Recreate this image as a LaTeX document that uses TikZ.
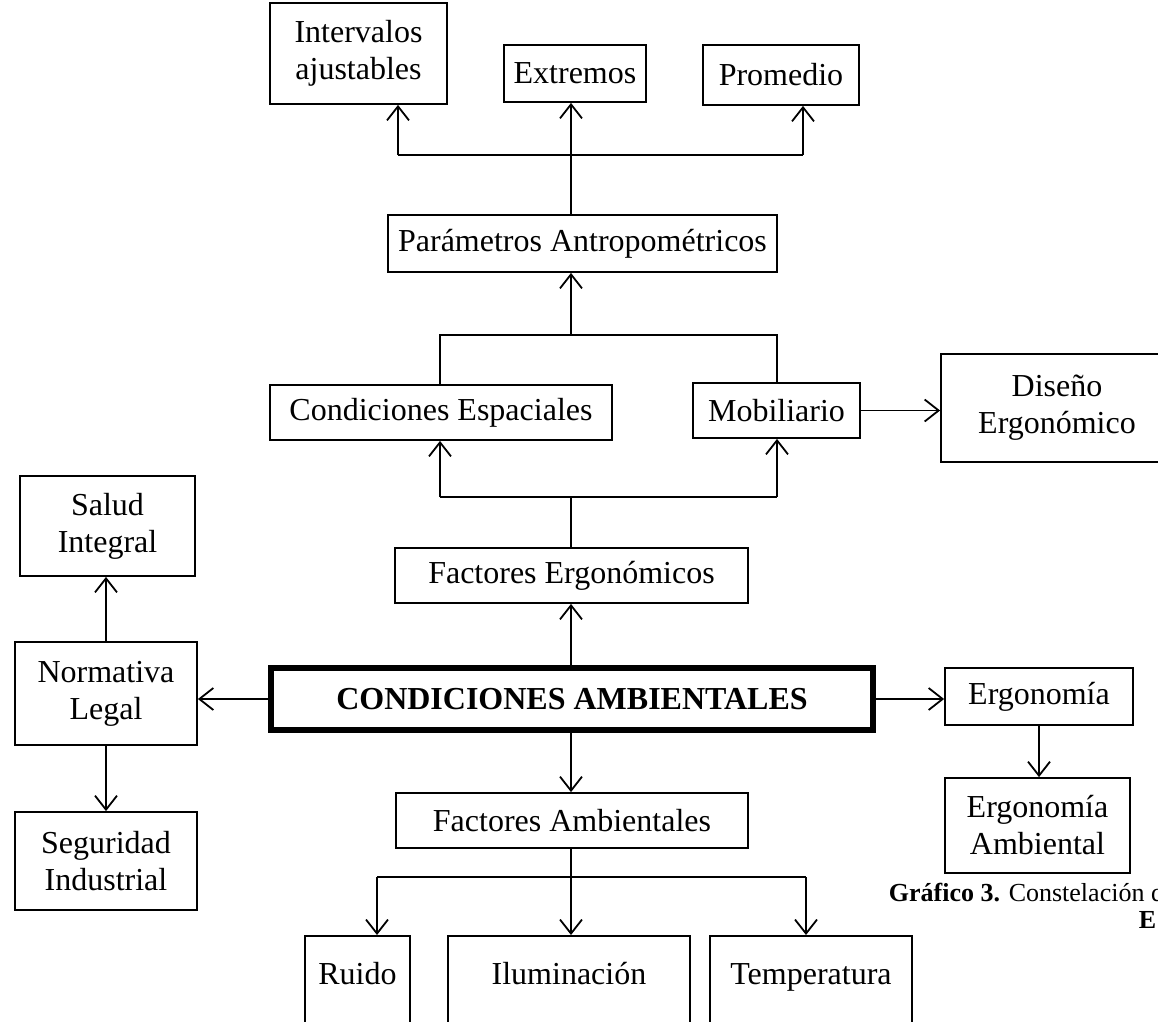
\documentclass[tikz,border=0pt]{standalone}
\usepackage{fontspec}
\setmainfont{Liberation Serif}
\usetikzlibrary{arrows.meta}
\begin{document}
\begin{tikzpicture}[x=1pt,y=-1pt,line width=1.8pt,
  box/.style={draw, line width=1.8pt, inner sep=0pt, align=center, font=\fontsize{32}{37}\selectfont},
  arr/.style={-{Straight Barb[length=14pt,width=22pt,line width=1.8pt]}},
  bottombox/.style={box, anchor=north, text height=49pt, text depth=60pt}]
\useasboundingbox (0,0) rectangle (1158,1021);
\clip (0,0) rectangle (1158,1021);
% top row
\node[box, minimum width=177pt, minimum height=101pt] (intv) at (358.5,53.5) {Intervalos\\ajustables};
\node[box, minimum width=142pt, minimum height=57pt] (extr) at (575,73.5) {Extremos};
\node[box, minimum width=156pt, minimum height=60pt] (prom) at (781,75) {Promedio};
\node[box, minimum width=389pt, minimum height=57pt] (param) at (582.5,243.5) {Parámetros Antropométricos};
\node[box, minimum width=342pt, minimum height=55pt] (condesp) at (441,412.5) {Condiciones Espaciales};
\node[box, minimum width=167pt, minimum height=55pt] (mob) at (776.5,410.5) {Mobiliario};
\node[box, minimum width=232pt, minimum height=108pt] (diseno) at (1057,408) {Diseño\\Ergonómico};
\node[box, minimum width=353pt, minimum height=55pt] (facerg) at (571.5,575.5) {Factores Ergonómicos};
\node[box, line width=5.5pt, minimum width=602pt, minimum height=62pt, font=\fontsize{32}{37}\selectfont\bfseries] (ca) at (572,699) {CONDICIONES AMBIENTALES};
\node[box, minimum width=182pt, minimum height=103pt] (norm) at (106,693.5) {Normativa\\Legal};
\node[box, minimum width=175pt, minimum height=100pt] (salud) at (107.5,526) {Salud\\Integral};
\node[box, minimum width=182pt, minimum height=98pt] (segur) at (106,861) {Seguridad\\Industrial};
\node[box, minimum width=188pt, minimum height=57pt] (ergo) at (1039,696.5) {Ergonomía};
\node[box, minimum width=185pt, minimum height=95pt] (ergamb) at (1037.5,825.5) {Ergonomía\\Ambiental};
\node[box, minimum width=352pt, minimum height=55pt] (facamb) at (572,820.5) {Factores Ambientales};
\node[bottombox, minimum width=105pt] (ruido) at (357.5,935) {Ruido};
\node[bottombox, minimum width=242pt] (ilum) at (569,935) {Iluminación};
\node[bottombox, minimum width=202pt] (temp) at (811,935) {Temperatura};
% caption
\node[anchor=base west, inner sep=0pt, font=\fontsize{26}{30}\selectfont] (cap1) at (888,901) {\textbf{Gráfico 3.} Constelación d};
\node[anchor=base west, inner sep=0pt, font=\fontsize{26}{30}\selectfont\bfseries] (cap2) at (1138,928) {E};
% junctions
\coordinate (j1) at (571,155); \coordinate (j1l) at (398,155); \coordinate (j1r) at (803,155);
\coordinate (j2) at (571,335); \coordinate (j2l) at (440,335); \coordinate (j2r) at (777,335);
\coordinate (j3) at (571,497); \coordinate (j3l) at (440,497); \coordinate (j3r) at (777,497);
\coordinate (j4) at (571,877); \coordinate (j4l) at (377,877); \coordinate (j4r) at (806,877);
% connectors
\draw (param.north -| j1) -- (j1);
\draw (j1l) -- (j1r);
\draw[arr] (j1l) -- (intv.south -| j1l);
\draw[arr] (j1) -- (extr.south -| j1);
\draw[arr] (j1r) -- (prom.south -| j1r);
\draw[arr] (j2) -- (param.south -| j2);
\draw (condesp.north -| j2l) -- (j2l) -- (j2r) -- (mob.north -| j2r);
\draw[arr] (mob.east) -- (diseno.west |- mob.east);
\draw (facerg.north -| j3) -- (j3);
\draw (j3l) -- (j3r);
\draw[arr] (j3l) -- (condesp.south -| j3l);
\draw[arr] (j3r) -- (mob.south -| j3r);
\draw[arr] (ca.north -| j3) -- (facerg.south -| j3);
\draw[arr] (ca.west) -- (norm.east |- ca.west);
\draw[arr] (norm.north) -- (salud.south -| norm.north);
\draw[arr] (norm.south) -- (segur.north -| norm.south);
\draw[arr] (ca.east) -- (ergo.west |- ca.east);
\draw[arr] (ergo.south) -- (ergamb.north -| ergo.south);
\draw[arr] (ca.south -| j3) -- (facamb.north -| j3);
\draw[arr] (facamb.south -| j4) -- (ilum.north -| j4);
\draw (j4l) -- (j4r);
\draw[arr] (j4l) -- (ruido.north -| j4l);
\draw[arr] (j4r) -- (temp.north -| j4r);
\end{tikzpicture}
\end{document}
